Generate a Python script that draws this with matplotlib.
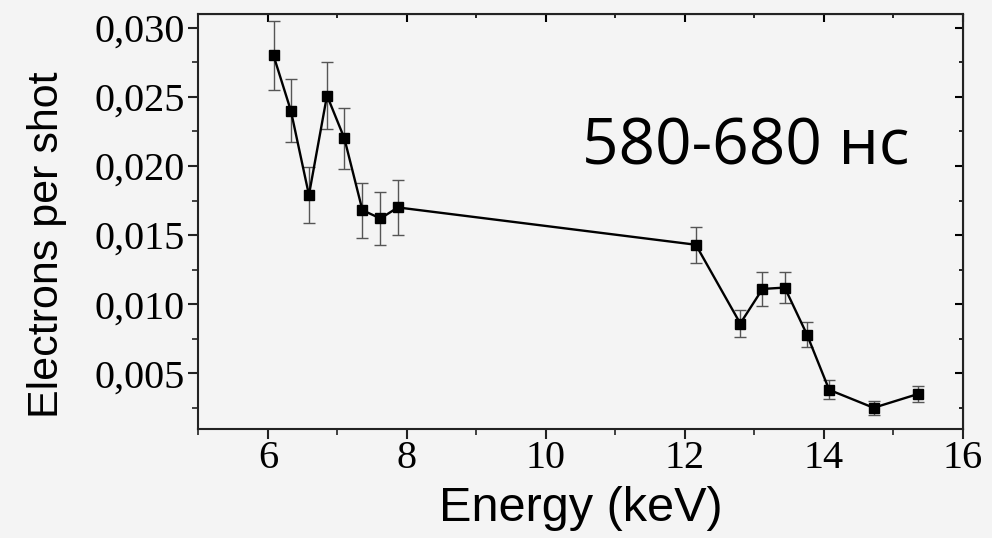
import matplotlib.pyplot as plt
from matplotlib.ticker import MultipleLocator, FuncFormatter

# data
energy = [6.08, 6.33, 6.59, 6.85, 7.10, 7.36, 7.62, 7.87,
          12.16, 12.80, 13.12, 13.44, 13.76, 14.08, 14.72, 15.36]
electrons = [0.0280, 0.0240, 0.0179, 0.0251, 0.0220, 0.0168, 0.0162, 0.0170,
             0.0143, 0.0086, 0.0111, 0.0112, 0.0078, 0.0038, 0.0025, 0.0035]
errors = [0.0025, 0.0023, 0.0020, 0.0024, 0.0022, 0.0020, 0.0019, 0.0020,
          0.0013, 0.0010, 0.0012, 0.0011, 0.0009, 0.0007, 0.0005, 0.0006]
x_ticks = [6, 8, 10, 12, 14, 16]
y_ticks = [0.005, 0.010, 0.015, 0.020, 0.025, 0.030]
label_text = '580-680 нс'

bg = '#f4f4f4'
fig = plt.figure(figsize=(9.92, 5.38), dpi=100, facecolor=bg)
ax = fig.add_axes([0.2001, 0.2035, 0.7702, 0.7705], facecolor=bg)

# error bars first, line and markers on top
ax.errorbar(energy, electrons, yerr=errors, fmt='none', ecolor='#555555',
            elinewidth=1.0, capsize=4, capthick=1.0, zorder=2)
ax.plot(energy, electrons, color='black', linewidth=1.7, marker='s',
        markersize=7, markerfacecolor='black', markeredgecolor='black', zorder=3)

ax.set_xlim(5, 16)
ax.set_ylim(0.001, 0.031)

ax.set_xticks(x_ticks)
ax.xaxis.set_minor_locator(MultipleLocator(1))
ax.set_yticks(y_ticks)
ax.yaxis.set_minor_locator(MultipleLocator(0.0025))
ax.yaxis.set_major_formatter(FuncFormatter(lambda v, p: f'{v:.3f}'.replace('.', ',')))

for s in ax.spines.values():
    s.set_linewidth(1.5)
    s.set_color('#222222')

# bottom / left ticks point out
ax.tick_params(which='major', direction='out', length=7, width=1.5, color='#222222')
ax.tick_params(which='minor', direction='out', length=4, width=1.2, color='#222222')
ax.tick_params(axis='x', which='major', labelsize=29, pad=1)
ax.tick_params(axis='y', which='major', labelsize=29, pad=3)
for lab in ax.get_xticklabels() + ax.get_yticklabels():
    lab.set_fontfamily('Liberation Serif')

# top / right mirror ticks point in
top = ax.secondary_xaxis('top')
top.set_xticks(x_ticks)
top.xaxis.set_minor_locator(MultipleLocator(1))
top.tick_params(which='major', direction='in', length=6, width=1.5, labeltop=False)
top.tick_params(which='minor', direction='in', length=3, width=1.2)
right = ax.secondary_yaxis('right')
right.set_yticks(y_ticks)
right.yaxis.set_minor_locator(MultipleLocator(0.0025))
right.tick_params(which='major', direction='in', length=6, width=1.5, labelright=False)
right.tick_params(which='minor', direction='in', length=3, width=1.2)

ax.set_xlabel('Energy (keV)', fontsize=35, family=['Liberation Sans', 'DejaVu Sans'])
ax.xaxis.set_label_coords(0.5, -0.138)
ax.set_ylabel('Electrons per shot', fontsize=31, family=['Liberation Sans', 'DejaVu Sans'])
ax.yaxis.set_label_coords(-0.172, 0.443)

ax.text(0.502, 0.638, label_text, transform=ax.transAxes, fontsize=46,
        family=['Open Sans', 'DejaVu Sans'], ha='left', va='baseline')

fig.savefig('out.png', dpi=100, facecolor=bg)
